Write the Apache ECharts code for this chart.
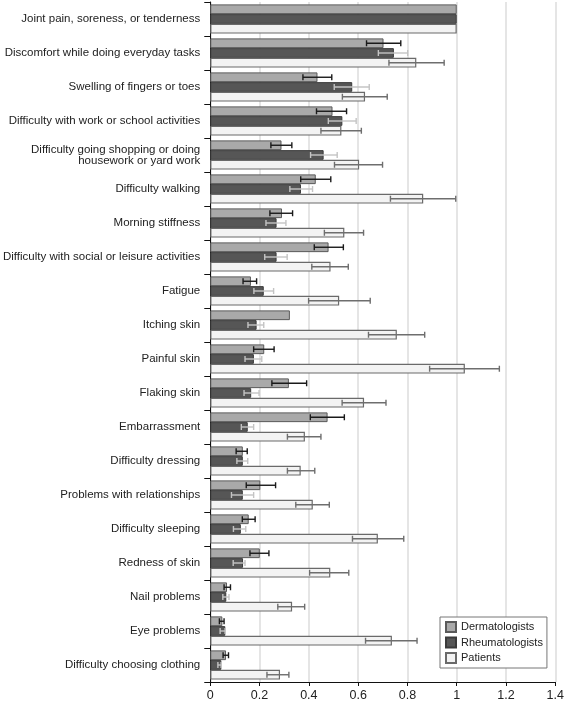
<!DOCTYPE html>
<html>
<head>
<meta charset="utf-8">
<script src="https://cdn.jsdelivr.net/npm/echarts@6/dist/echarts.min.js"></script>
<style>
html,body{margin:0;padding:0;background:#fff;}
#chart{width:567px;height:703px;}
</style>
</head>
<body>
<div id="chart"></div>
<script>
const categories = [
  "Joint pain, soreness, or tenderness",
  "Discomfort while doing everyday tasks",
  "Swelling of fingers or toes",
  "Difficulty with work or school activities",
  "Difficulty going shopping or doing\nhousework or yard work",
  "Difficulty walking",
  "Morning stiffness",
  "Difficulty with social or leisure activities",
  "Fatigue",
  "Itching skin",
  "Painful skin",
  "Flaking skin",
  "Embarrassment",
  "Difficulty dressing",
  "Problems with relationships",
  "Difficulty sleeping",
  "Redness of skin",
  "Nail problems",
  "Eye problems",
  "Difficulty choosing clothing"
];
const seriesNames = ["Dermatologists", "Rheumatologists", "Patients"];

const dermValues = [1, 0.703, 0.435, 0.496, 0.289, 0.428, 0.291, 0.480, 0.165, 0.323, 0.219, 0.319, 0.476, 0.132, 0.203, 0.156, 0.201, 0.068, 0.049, 0.064];
const dermLow    = [null, 0.634, 0.376, 0.431, 0.246, 0.367, 0.242, 0.422, 0.133, null, 0.176, 0.250, 0.406, 0.105, 0.146, 0.130, 0.161, 0.056, 0.037, 0.052];
const dermHigh   = [null, 0.773, 0.493, 0.553, 0.331, 0.489, 0.334, 0.540, 0.188, null, 0.259, 0.391, 0.544, 0.150, 0.265, 0.182, 0.238, 0.082, 0.056, 0.074];

const rheumValues = [1, 0.745, 0.576, 0.536, 0.460, 0.368, 0.269, 0.269, 0.217, 0.188, 0.177, 0.166, 0.152, 0.132, 0.132, 0.124, 0.133, 0.065, 0.061, 0.045];
const rheumLow    = [null, 0.682, 0.503, 0.479, 0.407, 0.323, 0.226, 0.221, 0.177, 0.153, 0.141, 0.137, 0.126, 0.108, 0.086, 0.094, 0.093, 0.051, 0.040, 0.031];
const rheumHigh   = [null, 0.801, 0.645, 0.592, 0.515, 0.415, 0.307, 0.312, 0.257, 0.217, 0.209, 0.198, 0.176, 0.152, 0.176, 0.144, 0.141, 0.076, 0.060, 0.044];

const patValues = [1, 0.836, 0.628, 0.532, 0.604, 0.864, 0.544, 0.488, 0.523, 0.757, 1.033, 0.624, 0.384, 0.367, 0.416, 0.680, 0.487, 0.332, 0.737, 0.283];
const patLow    = [null, 0.725, 0.536, 0.449, 0.504, 0.731, 0.463, 0.412, 0.399, 0.642, 0.890, 0.535, 0.313, 0.313, 0.347, 0.577, 0.403, 0.274, 0.630, 0.230];
const patHigh   = [null, 0.949, 0.718, 0.613, 0.699, 0.996, 0.622, 0.560, 0.649, 0.870, 1.173, 0.713, 0.449, 0.424, 0.483, 0.785, 0.562, 0.383, 0.839, 0.319];

const xTicks = [0, 0.2, 0.4, 0.6, 0.8, 1, 1.2, 1.4];

const CAT_GAP = 0.14;

function errData(low, high) {
  const out = [];
  for (let i = 0; i < categories.length; i++) {
    if (low[i] != null && high[i] != null) out.push([i, low[i], high[i]]);
  }
  return out;
}

function errSeries(idx, low, high, color) {
  return {
    type: 'custom',
    z: 10,
    silent: true,
    data: errData(low, high),
    encode: { x: [1, 2], y: 0 },
    renderItem: function (params, api) {
      const cat = api.value(0);
      const a = api.coord([api.value(1), cat]);
      const b = api.coord([api.value(2), cat]);
      const band = api.size([0, 1])[1];
      const bw = band * (1 - CAT_GAP) / 3;
      const y = a[1] + (idx - 1) * bw;
      const cap = 3;
      const st = { stroke: color, lineWidth: 1.4 };
      return {
        type: 'group',
        children: [
          { type: 'line', shape: { x1: a[0], y1: y, x2: b[0], y2: y }, style: st },
          { type: 'line', shape: { x1: a[0], y1: y - cap, x2: a[0], y2: y + cap }, style: st },
          { type: 'line', shape: { x1: b[0], y1: y - cap, x2: b[0], y2: y + cap }, style: st }
        ]
      };
    }
  };
}

const chart = echarts.init(document.getElementById('chart'));
chart.setOption({
  animation: false,
  textStyle: { fontFamily: 'Liberation Sans, Arial, sans-serif' },
  grid: { left: 207, right: 9, top: 2, bottom: 21, containLabel: false },
  legend: {
    data: seriesNames,
    icon: 'rect',
    orient: 'vertical',
    left: 440,
    top: 617,
    itemWidth: 10,
    itemHeight: 10,
    itemGap: 3.5,
    padding: [4, 4, 4, 5],
    borderColor: '#777',
    borderWidth: 1,
    backgroundColor: '#fff',
    textStyle: { fontSize: 11, lineHeight: 12, color: '#222', padding: [0, 0, 0, 0] }
  },
  xAxis: {
    type: 'value',
    min: 0,
    max: 1.4,
    interval: 0.2,
    axisLine: { show: true, lineStyle: { color: '#111', width: 1 } },
    axisTick: { show: true, length: 4, lineStyle: { color: '#111' } },
    axisLabel: { fontSize: 12.5, color: '#222', margin: 7,
      formatter: function (v) { return String(Math.round(v * 10) / 10); } },
    splitLine: { show: true, lineStyle: { color: '#dcdcdc', width: 1.5 } }
  },
  yAxis: {
    type: 'category',
    data: categories,
    inverse: true,
    axisLine: { show: true, lineStyle: { color: '#111', width: 1 } },
    axisTick: { show: true, length: 6, lineStyle: { color: '#111' } },
    axisLabel: { fontSize: 11.5, color: '#222', margin: 10, lineHeight: 11 }
  },
  series: [
    { name: seriesNames[0], type: 'bar', data: dermValues, barGap: '0%', barCategoryGap: (CAT_GAP * 100) + '%',
      itemStyle: { color: '#a9a9a9', borderColor: '#5a5a5a', borderWidth: 1 } },
    { name: seriesNames[1], type: 'bar', data: rheumValues, barGap: '0%', barCategoryGap: (CAT_GAP * 100) + '%',
      itemStyle: { color: '#565656', borderColor: '#3a3a3a', borderWidth: 1 } },
    { name: seriesNames[2], type: 'bar', data: patValues, barGap: '0%', barCategoryGap: (CAT_GAP * 100) + '%',
      itemStyle: { color: '#f3f3f3', borderColor: '#6a6a6a', borderWidth: 1.2 } },
    errSeries(0, dermLow, dermHigh, '#1a1a1a'),
    errSeries(1, rheumLow, rheumHigh, '#c4c4c4'),
    errSeries(2, patLow, patHigh, '#6e6e6e')
  ]
});
</script>
</body>
</html>
